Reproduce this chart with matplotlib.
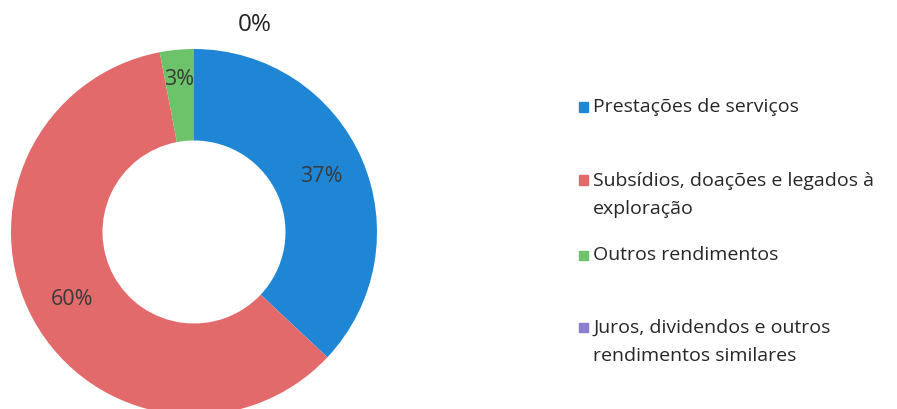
import matplotlib.pyplot as plt
from matplotlib.patches import Rectangle

# Dados do gráfico
categorias = [
    "Prestações de serviços",
    "Subsídios, doações e legados à\nexploração",
    "Outros rendimentos",
    "Juros, dividendos e outros\nrendimentos similares",
]
valores = [37, 60, 3, 0]
rotulos = ["37%", "60%", "3%", "0%"]
cores = ["#1f86d5", "#e36a6a", "#6cc36a", "#8b80cf"]

plt.rcParams["font.family"] = ["Open Sans", "DejaVu Sans"]

W, H = 897, 409
fig = plt.figure(figsize=(W / 100, H / 100), dpi=100)

# Eixo do donut (centro ~ (194, 232) px, raio ~183 px)
cx, cy, r = 194, 232, 183
ax = fig.add_axes([(cx - r) / W, (H - cy - r) / H, 2 * r / W, 2 * r / H])

idx = iter(range(len(valores)))


def fmt(p):
    i = next(idx)
    return rotulos[i] if valores[i] > 0 else ""


wedges, _, autotexts = ax.pie(
    valores,
    colors=cores,
    startangle=90,
    counterclock=False,
    radius=1,
    autopct=fmt,
    pctdistance=0.76,
    wedgeprops=dict(width=0.5, linewidth=0),
    textprops=dict(fontsize=15.5, color="#3a3a3a"),
)
ax.set_xlim(-1, 1)
ax.set_ylim(-1, 1)
ax.set_aspect("equal")
for w in wedges:
    w.set_clip_on(False)

# rótulo 3% um pouco mais para fora
x3, y3 = autotexts[2].get_position()
autotexts[2].set_position((x3 * 1.1, y3 * 1.1))

# Rótulo da fatia com 0%, fora do anel
ax.annotate(rotulos[3], xy=(0.33, 1.13), ha="center", va="center",
            fontsize=17.5, color="#222222", annotation_clip=False)

# Legenda manual (centro de cada entrada, em px)
legenda_y = [107, 195, 255, 342]
for cat, cor, y in zip(categorias, cores, legenda_y):
    y_sq = y - 15 if "\n" in cat else y
    fig.patches.append(Rectangle((579 / W, (H - y_sq - 4.5) / H), 9 / W, 9 / H,
                                 transform=fig.transFigure, color=cor))
    fig.text(593 / W, (H - y) / H, cat, ha="left", va="center",
             fontsize=14, color="#262626", linespacing=1.75)

fig.savefig("out.png", dpi=100)
